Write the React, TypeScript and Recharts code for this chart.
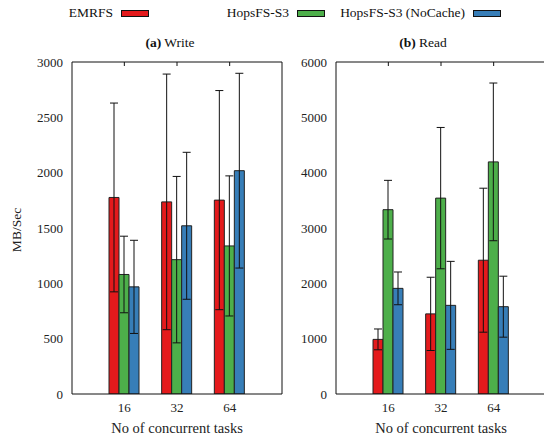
import React from "react";
import { BarChart, Bar, XAxis, YAxis, ErrorBar, Label } from "recharts";

const categories = ["16", "32", "64"];

const seriesNames = ["EMRFS", "HopsFS-S3", "HopsFS-S3 (NoCache)"];
const seriesColors = ["#e41a1c", "#4daf4a", "#377eb8"];

// write throughput (MB/s) and std dev
const writeEmrfs = [1776, 1736, 1752];
const writeEmrfsErr = [853, 1155, 990];
const writeHops = [1080, 1214, 1338];
const writeHopsErr = [346, 752, 633];
const writeNoCache = [968, 1520, 2018];
const writeNoCacheErr = [421, 664, 880];

// read throughput (MB/s) and std dev
const readEmrfs = [987, 1448, 2418];
const readEmrfsErr = [188, 662, 1301];
const readHops = [3331, 3540, 4195];
const readHopsErr = [530, 1277, 1425];
const readNoCache = [1909, 1602, 1578];
const readNoCacheErr = [296, 795, 551];

const writeTicks = [0, 500, 1000, 1500, 2000, 2500, 3000];
const readTicks = [0, 1000, 2000, 3000, 4000, 5000, 6000];

const FONT = "Liberation Serif";
const INK = "#111";

const buildRows = (a: number[], aErr: number[], b: number[], bErr: number[], c: number[], cErr: number[]) =>
  categories.map((task, i) => ({
    task,
    emrfs: a[i],
    emrfsErr: aErr[i],
    hops: b[i],
    hopsErr: bErr[i],
    noCache: c[i],
    noCacheErr: cErr[i],
  }));

const writeData = buildRows(writeEmrfs, writeEmrfsErr, writeHops, writeHopsErr, writeNoCache, writeNoCacheErr);
const readData = buildRows(readEmrfs, readEmrfsErr, readHops, readHopsErr, readNoCache, readNoCacheErr);

const seriesKeys = ["emrfs", "hops", "noCache"];

const noTick = () => <g />;

interface PanelProps {
  data: any[];
  ticks: number[];
  tag: string;
  title: string;
  titleDx: number;
  width: number;
  yAxisWidth: number;
  rightMargin: number;
  yLabel?: string;
}

function Panel({ data, ticks, tag, title, titleDx, width, yAxisWidth, rightMargin, yLabel }: PanelProps) {
  const max = ticks[ticks.length - 1];
  const tickStyle = { fontSize: 13, fill: "#222", fontFamily: FONT };
  return (
    <BarChart
      width={width}
      height={440}
      data={data}
      margin={{ top: 62, right: rightMargin, bottom: 0, left: 0 }}
      barSize={10}
      barGap={0}
      style={{ fontFamily: FONT }}
    >
      <XAxis
        dataKey="task"
        height={46}
        padding={{ left: 26, right: 26 }}
        axisLine={{ stroke: INK }}
        tickLine={false}
        tickSize={0}
        tickMargin={9}
        tick={tickStyle}
      >
        <Label
          content={(p: any) => {
            const vb = p.viewBox;
            return (
              <text
                x={vb.x + vb.width / 2}
                y={vb.y + vb.height - 7}
                textAnchor="middle"
                fontFamily={FONT}
                fontSize={14.5}
                fill="#222"
              >
                No of concurrent tasks
              </text>
            );
          }}
        />
      </XAxis>
      <XAxis
        xAxisId="top"
        orientation="top"
        dataKey="task"
        mirror
        height={1}
        padding={{ left: 26, right: 26 }}
        axisLine={{ stroke: INK }}
        tickLine={{ stroke: INK }}
        tickSize={4}
        tick={noTick}
      >
        <Label
          content={(p: any) => {
            const vb = p.viewBox;
            return (
              <text
                x={vb.x + vb.width / 2 + titleDx}
                y={vb.y - 15}
                textAnchor="middle"
                fontFamily={FONT}
                fontSize={13.5}
                fill="#111"
              >
                <tspan fontWeight="bold">{tag}</tspan> {title}
              </text>
            );
          }}
        />
      </XAxis>
      <YAxis
        width={yAxisWidth}
        domain={[0, max]}
        ticks={ticks}
        allowDataOverflow
        axisLine={{ stroke: INK }}
        tickLine={false}
        tickSize={0}
        tickMargin={9}
        tick={tickStyle}
      >
        {yLabel && (
          <Label
            content={(p: any) => {
              const vb = p.viewBox;
              const cx = 16;
              const cy = vb.y + vb.height / 2 + 2;
              return (
                <text
                  x={cx}
                  y={cy}
                  transform={`rotate(-90 ${cx} ${cy})`}
                  textAnchor="middle"
                  dominantBaseline="central"
                  fontFamily={FONT}
                  fontSize={13.5}
                  fill="#222"
                >
                  {yLabel}
                </text>
              );
            }}
          />
        )}
      </YAxis>
      <YAxis
        yAxisId="right"
        orientation="right"
        mirror
        width={1}
        domain={[0, max]}
        ticks={ticks}
        axisLine={{ stroke: INK }}
        tickLine={{ stroke: INK }}
        tickSize={4}
        tick={noTick}
      />
      {seriesKeys.map((key, i) => (
        <Bar
          key={key}
          dataKey={key}
          name={seriesNames[i]}
          fill={seriesColors[i]}
          stroke="#222"
          strokeWidth={1}
          isAnimationActive={false}
        >
          <ErrorBar dataKey={`${key}Err`} width={4} stroke={INK} strokeWidth={1} />
        </Bar>
      ))}
    </BarChart>
  );
}

function LegendRow() {
  return (
    <div
      style={{
        position: "absolute",
        top: 4,
        left: -27,
        display: "flex",
        fontFamily: FONT,
        fontSize: 13.5,
        color: "#111",
      }}
    >
      {seriesNames.map((name, i) => (
        <div
          key={name}
          style={{ width: 176, display: "flex", justifyContent: "flex-end", alignItems: "center", height: 18 }}
        >
          <span style={{ marginRight: 8 }}>{name}</span>
          <span
            style={{
              display: "inline-block",
              width: 26,
              height: 5,
              background: seriesColors[i],
              border: "1px solid #111",
            }}
          />
        </div>
      ))}
    </div>
  );
}

export default function App() {
  return (
    <div
      style={{
        position: "absolute",
        left: 0,
        top: 0,
        width: 544,
        height: 440,
        overflow: "hidden",
        background: "#fff",
      }}
    >
      <div style={{ position: "absolute", left: 0, top: 0 }}>
        <Panel
          data={writeData}
          ticks={writeTicks}
          tag="(a)"
          title="Write"
          titleDx={-7}
          width={290}
          yAxisWidth={72}
          rightMargin={8}
          yLabel="MB/Sec"
        />
      </div>
      <div style={{ position: "absolute", left: 290, top: 0 }}>
        <Panel
          data={readData}
          ticks={readTicks}
          tag="(b)"
          title="Read"
          titleDx={-18}
          width={270}
          yAxisWidth={46}
          rightMargin={14}
        />
      </div>
      <LegendRow />
    </div>
  );
}
